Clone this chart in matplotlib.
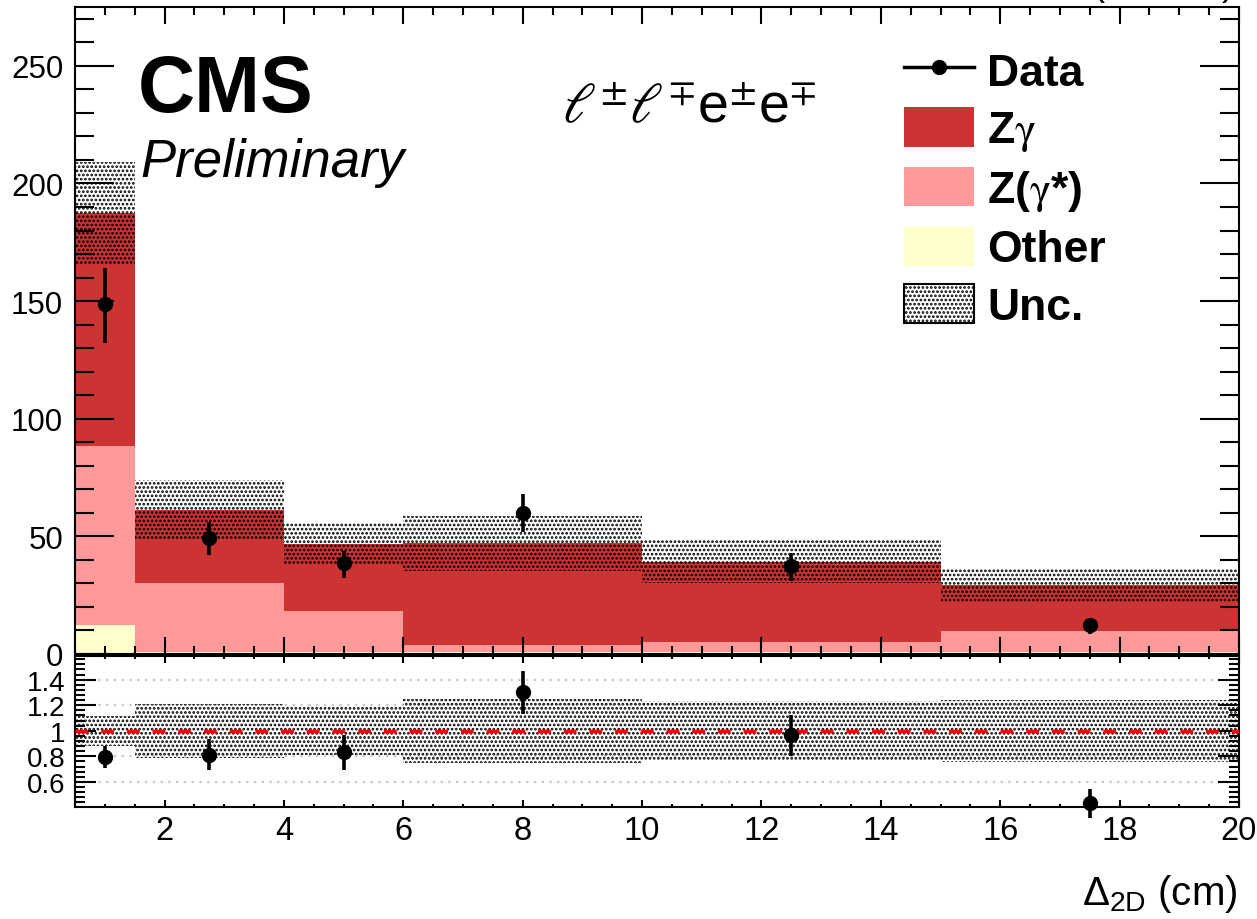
import matplotlib
matplotlib.use('Agg')
import matplotlib.pyplot as plt
import matplotlib.patches as mpatches
from matplotlib.lines import Line2D
import numpy as np

plt.rcParams['font.family'] = ['Liberation Sans', 'DejaVu Sans']
plt.rcParams['mathtext.fontset'] = 'custom'
plt.rcParams['mathtext.rm'] = 'Liberation Sans'
plt.rcParams['mathtext.it'] = 'Liberation Sans:italic'
plt.rcParams['mathtext.bf'] = 'Liberation Sans:bold'
plt.rcParams['hatch.linewidth'] = 1.3

# bin edges in cm
edges = np.array([0.5, 1.5, 4.0, 6.0, 10.0, 15.0, 20.0])
centers = np.array([1.0, 2.75, 5.0, 8.0, 12.5, 17.5])

# stacked backgrounds (events)
other = np.array([12.5, 0.8, 0.8, 0.8, 0.8, 0.8])
zgstar = np.array([75.9, 29.2, 17.3, 3.0, 4.4, 8.8])
zg = np.array([99.2, 31.2, 28.6, 43.2, 34.0, 19.7])
unc = np.array([21.7, 12.9, 9.0, 11.7, 9.2, 7.1])

# data
data = np.array([148.6, 49.1, 38.5, 60.1, 37.2, 12.3])
data_up = np.array([15.5, 6.8, 5.3, 7.8, 5.7, 3.0])
data_dn = np.array([16.3, 6.9, 6.4, 8.2, 6.1, 3.8])

# ratio data / prediction
ratio = np.array([0.793, 0.813, 0.836, 1.304, 0.969, 0.434])
ratio_up = np.array([0.085, 0.122, 0.133, 0.164, 0.153, 0.112])
ratio_dn = np.array([0.086, 0.117, 0.140, 0.174, 0.164, 0.120])

c_zg = '#cc3333'
c_zgstar = '#ff9999'
c_other = '#ffffcc'
hatch = '....'

W, H = 1257, 920
fig = plt.figure(figsize=(W / 100, H / 100), dpi=100)
ax = fig.add_axes([75 / W, 1 - 655 / H, 1164 / W, 647 / H])
rax = fig.add_axes([75 / W, 1 - 808 / H, 1164 / W, 151 / H])

# stack
s1 = other
s2 = s1 + zgstar
s3 = s2 + zg
ax.stairs(s1, edges, baseline=0, fill=True, color=c_other, lw=0)
ax.stairs(s2, edges, baseline=s1, fill=True, color=c_zgstar, lw=0)
ax.stairs(s3, edges, baseline=s2, fill=True, color=c_zg, lw=0)
ax.stairs(s3 + unc, edges, baseline=s3 - unc, fill=True, facecolor='none',
          edgecolor='black', hatch=hatch, lw=0)

ax.errorbar(centers, data, yerr=[data_dn, data_up], fmt='o', color='black',
            ms=10, elinewidth=2.6, capsize=0, zorder=5)

ax.set_xlim(0.5, 20)
ax.set_ylim(0, 275)
ax.set_xticks(np.arange(2, 21, 2))
ax.set_xticks(np.arange(0.5, 20.01, 0.5), minor=True)
ax.set_yticks(np.arange(0, 251, 50))
ax.set_yticks(np.arange(0, 271, 10), minor=True)
ax.tick_params(axis='both', which='both', direction='in', top=True, right=True, width=1.5)
ax.tick_params(axis='y', which='major', length=28, labelsize=22.5, pad=8.5)
ax.tick_params(axis='y', which='minor', length=14)
ax.tick_params(axis='x', which='major', length=12, labelbottom=False)
ax.tick_params(axis='x', which='minor', length=5.5)
for sp in ax.spines.values():
    sp.set_linewidth(1.5)

ax.text(0.054, 0.839, 'CMS', transform=ax.transAxes, fontsize=57,
        fontweight='bold', va='baseline')
ax.text(0.056, 0.739, 'Preliminary', transform=ax.transAxes, fontsize=38,
        style='italic', va='baseline')
t = ax.text(0.418, 0.824, r'$\ell^{\pm}\ell^{\mp}$e$^{\pm}$e$^{\mp}$',
            transform=ax.transAxes, fontsize=40, va='baseline')
t.set_math_fontfamily('stix')

handles = [
    Line2D([0], [0], color='black', lw=2.5, marker='o', ms=10),
    mpatches.Patch(facecolor=c_zg, edgecolor='none'),
    mpatches.Patch(facecolor=c_zgstar, edgecolor='none'),
    mpatches.Patch(facecolor=c_other, edgecolor='none'),
    mpatches.Patch(facecolor='white', edgecolor='black', hatch=hatch, lw=1.5),
]
labels = ['Data', r'Z$\mathrm{\gamma}$', r'Z($\mathrm{\gamma}$*)', 'Other', 'Unc.']
leg = ax.legend(handles, labels, loc='upper left', bbox_to_anchor=(0.712, 0.934),
                frameon=False, prop={'size': 32, 'weight': 'bold'}, numpoints=1,
                handlelength=1.57, handleheight=0.98, handletextpad=0.3,
                labelspacing=0.31, borderpad=0, borderaxespad=0)
for txt in leg.get_texts():
    txt.set_math_fontfamily('stix')

# ratio panel
tot = s3
rel = unc / tot
rax.stairs(1 + rel, edges, baseline=1 - rel, fill=True, facecolor='none',
           edgecolor='black', hatch=hatch, lw=0)
for g in [0.6, 0.8, 1.2, 1.4]:
    rax.axhline(g, color='#c8c8c8', lw=1.6, ls=(0, (1, 2.5)), zorder=0)
rax.axhline(1.0, color='#ff0000', lw=2.5, ls=(0, (3.7, 3.7)), zorder=3)
rax.errorbar(centers, ratio, yerr=[ratio_dn, ratio_up], fmt='o', color='black',
             ms=10, elinewidth=2.6, capsize=0, zorder=5, clip_on=False)

rax.set_xlim(0.5, 20)
rax.set_ylim(0.403, 1.585)
rax.set_xticks(np.arange(2, 21, 2))
rax.set_xticks(np.arange(0.5, 20.01, 0.5), minor=True)
rax.set_yticks([0.6, 0.8, 1.0, 1.2, 1.4])
rax.set_yticklabels(['0.6', '0.8', '1', '1.2', '1.4'])
rax.set_yticks(np.arange(0.44, 1.58, 0.04), minor=True)
rax.tick_params(axis='both', which='both', direction='in', top=True, right=True, width=1.5)
rax.tick_params(axis='y', which='major', length=15, labelsize=20, pad=7)
rax.tick_params(axis='y', which='minor', length=7)
rax.tick_params(axis='x', which='major', length=5, labelsize=23.5, pad=6)
rax.tick_params(axis='x', which='minor', length=2.5)
for sp in rax.spines.values():
    sp.set_linewidth(1.5)

fig.text(1238 / W, 1 - 905 / H, r'$\Delta_{\mathrm{2D}}$ (cm)', ha='right',
         va='baseline', fontsize=29)
# top-right label, sits mostly above the canvas like in the original
fig.text(1233 / W, 1 + 4 / H, r'138 fb$^{-1}$ (13 TeV)', ha='right',
         va='baseline', fontsize=26)

fig.savefig('out.png', dpi=100)
